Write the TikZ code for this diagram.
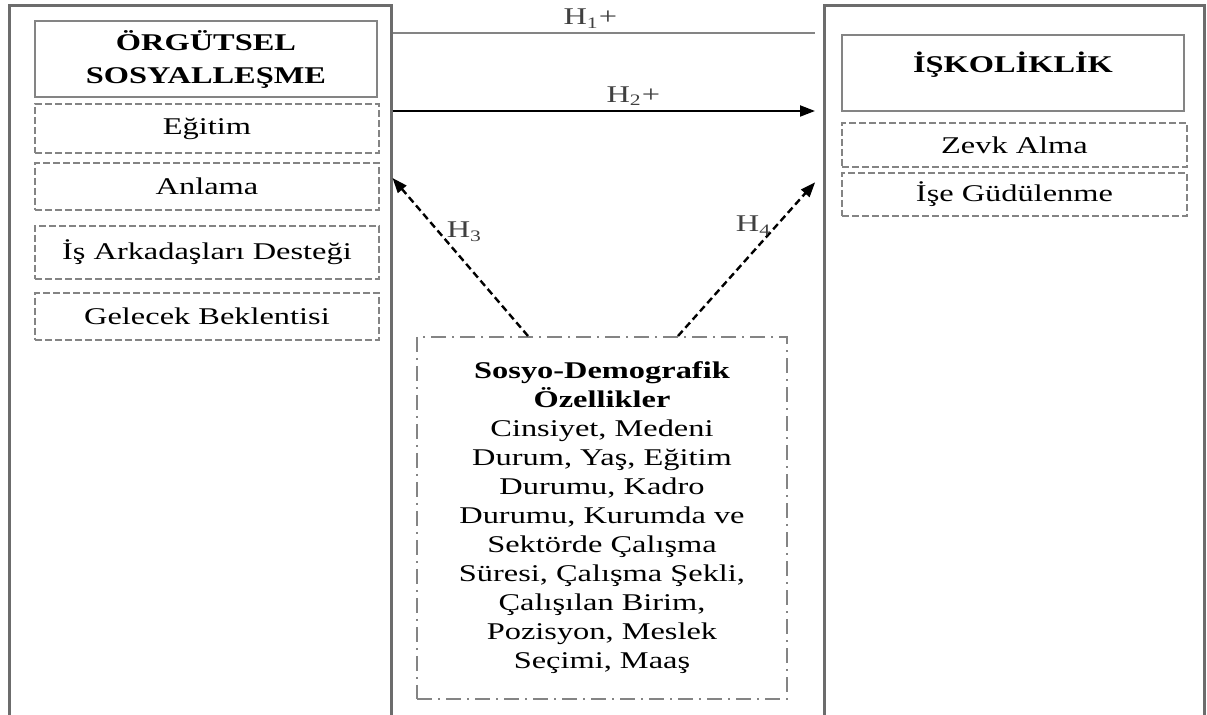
\documentclass[tikz,border=0pt]{standalone}
\usepackage{fontspec}
\setmainfont{Liberation Serif}[FakeStretch=1.35]
\usetikzlibrary{arrows.meta}
\definecolor{framegray}{RGB}{108,108,108}
\definecolor{boxgray}{RGB}{132,132,132}

\begin{document}
\begin{tikzpicture}[x=0.5pt,y=-0.5pt,
    font=\fontsize{12}{14.5}\selectfont,
    >={Triangle[length=7.5pt,width=5.5pt]},
    panel/.style={draw=framegray,line width=1.5pt,minimum width=190pt,minimum height=367pt,inner sep=0pt},
    titlebox/.style={draw=boxgray,line width=1pt,minimum width=171pt,minimum height=38pt,
        align=center,font=\fontsize{12}{16.5}\selectfont\bfseries},
    dimbox/.style={draw=boxgray,line width=1pt,dash pattern=on 3.5pt off 1.5pt,
        minimum width=172pt,align=center},
    demobox/.style={draw=boxgray,line width=1pt,dash pattern=on 7.5pt off 3pt on 1pt off 3pt,
        minimum width=185pt,minimum height=181pt,align=center},
    hlabel/.style={text=black!75,inner sep=2pt}]
    \useasboundingbox (0,0) rectangle (1207,715);
    \clip (0,0) rectangle (1207,715);
    %%%%% THE LEFT PANEL
    \node (orgpanel) [panel, minimum width=191pt] at (200,373) {};
    \node (orgtitle) [titlebox] at (206,59) {ÖRGÜTSEL\\SOSYALLEŞME};
    \node (egitim) [dimbox, minimum height=24.5pt] at (207,128.5) {Eğitim};
    \node (anlama) [dimbox, minimum height=23.5pt] at (207,186.5) {Anlama};
    \node (destek) [dimbox, minimum height=26.5pt] at (207,252.5) {İş Arkadaşları Desteği};
    \node (beklenti) [dimbox, minimum height=23.5pt] at (207,316.5) {Gelecek Beklentisi};
    %%%%% THE RIGHT PANEL
    \node (iskpanel) [panel] at (1014,373) {};
    \node (isktitle) [titlebox, text depth=11pt] at (1013,73) {İŞKOLİKLİK};
    \node (zevk) [dimbox, minimum width=172.5pt, minimum height=22pt] at (1014.5,145) {Zevk Alma};
    \node (gudulenme) [dimbox, minimum width=172.5pt, minimum height=21.5pt] at (1014.5,194.5) {İşe Güdülenme};
    %%%%% THE CONTROL VARIABLES
    \node (demo) [demobox] at (602,518) {\textbf{Sosyo-Demografik}\\\textbf{Özellikler}\\
        Cinsiyet, Medeni\\Durum, Yaş, Eğitim\\Durumu, Kadro\\Durumu, Kurumda ve\\
        Sektörde Çalışma\\Süresi, Çalışma Şekli,\\Çalışılan Birim,\\Pozisyon, Meslek\\
        Seçimi, Maaş};
    %%%% HYPOTHESES
    \draw[boxgray, line width=0.8pt, shorten >=3.75pt] (orgpanel.east |- 0,33)
        -- node[hlabel, above, pos=0.46] {H\textsubscript{1}+} (iskpanel.west |- 0,33);
    \draw[->, line width=1pt, shorten >=3.75pt] (orgpanel.east |- 0,111)
        -- node[hlabel, above, pos=0.56] {H\textsubscript{2}+} (iskpanel.west |- 0,111);
    \draw[->, line width=1.2pt, dash pattern=on 3.5pt off 2pt] (528,0 |- demo.north)
        -- node[hlabel, pos=0.66, right=1.5pt] {H\textsubscript{3}} (orgpanel.east |- 0,178);
    \draw[->, line width=1.2pt, dash pattern=on 3.5pt off 2pt, shorten >=5.5pt] (678,0 |- demo.north)
        -- node[hlabel, pos=0.68, left=0pt] {H\textsubscript{4}} (iskpanel.west |- 0,174);
  \end{tikzpicture}
\end{document}
